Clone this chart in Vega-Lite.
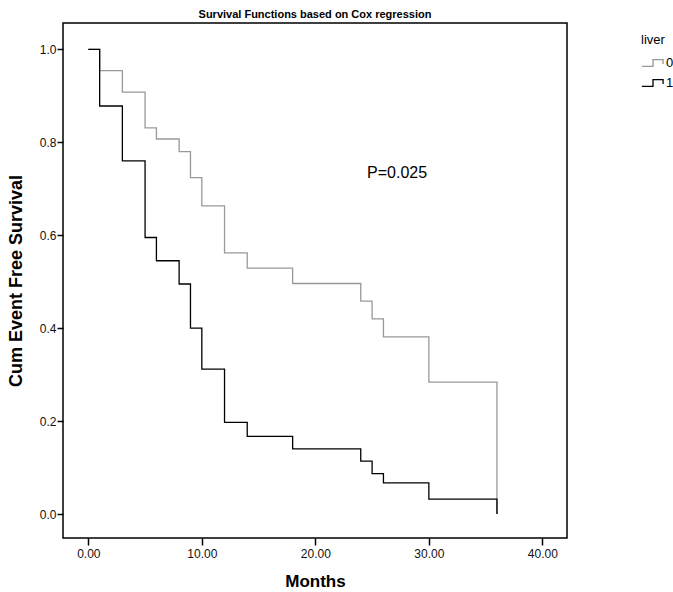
{
  "$schema": "https://vega.github.io/schema/vega-lite/v6.json",
  "autosize": "none",
  "width": 504,
  "height": 515,
  "padding": {"left": 63, "top": 23, "right": 106, "bottom": 54},
  "background": "white",
  "title": {
    "text": "Survival Functions based on Cox regression",
    "font": "Liberation Sans",
    "fontSize": 11,
    "fontWeight": "bold",
    "color": "#000000",
    "anchor": "middle",
    "offset": 3
  },
  "config": {
    "view": {"stroke": "#000000", "strokeWidth": 1.5},
    "axis": {
      "grid": false,
      "domain": false,
      "labelFont": "Liberation Sans",
      "labelFontSize": 12,
      "labelColor": "#111111",
      "tickColor": "#000000",
      "tickWidth": 1.5,
      "tickSize": 7,
      "titleFont": "Liberation Sans",
      "titleFontWeight": "bold",
      "titleColor": "#000000"
    }
  },
  "datasets": {
    "surv": [
      {"time": 0, "surv": 1.0, "liver": "0"},
      {"time": 1, "surv": 0.954, "liver": "0"},
      {"time": 3, "surv": 0.908, "liver": "0"},
      {"time": 5, "surv": 0.831, "liver": "0"},
      {"time": 6, "surv": 0.807, "liver": "0"},
      {"time": 8, "surv": 0.780, "liver": "0"},
      {"time": 9, "surv": 0.724, "liver": "0"},
      {"time": 10, "surv": 0.663, "liver": "0"},
      {"time": 12, "surv": 0.562, "liver": "0"},
      {"time": 14, "surv": 0.529, "liver": "0"},
      {"time": 18, "surv": 0.496, "liver": "0"},
      {"time": 24, "surv": 0.458, "liver": "0"},
      {"time": 25, "surv": 0.420, "liver": "0"},
      {"time": 26, "surv": 0.381, "liver": "0"},
      {"time": 30, "surv": 0.284, "liver": "0"},
      {"time": 36, "surv": 0.0, "liver": "0"},
      {"time": 0, "surv": 1.0, "liver": "1"},
      {"time": 1, "surv": 0.878, "liver": "1"},
      {"time": 3, "surv": 0.760, "liver": "1"},
      {"time": 5, "surv": 0.595, "liver": "1"},
      {"time": 6, "surv": 0.545, "liver": "1"},
      {"time": 8, "surv": 0.495, "liver": "1"},
      {"time": 9, "surv": 0.400, "liver": "1"},
      {"time": 10, "surv": 0.312, "liver": "1"},
      {"time": 12, "surv": 0.197, "liver": "1"},
      {"time": 14, "surv": 0.167, "liver": "1"},
      {"time": 18, "surv": 0.140, "liver": "1"},
      {"time": 24, "surv": 0.114, "liver": "1"},
      {"time": 25, "surv": 0.087, "liver": "1"},
      {"time": 26, "surv": 0.067, "liver": "1"},
      {"time": 30, "surv": 0.032, "liver": "1"},
      {"time": 36, "surv": 0.0, "liver": "1"}
    ],
    "note": [{"time": 27.2, "surv": 0.734, "label": "P=0.025"}]
  },
  "layer": [
    {
      "data": {"name": "surv"},
      "mark": {"type": "line", "interpolate": "step-after", "strokeWidth": 1.3, "clip": true},
      "encoding": {
        "x": {
          "field": "time",
          "type": "quantitative",
          "scale": {"domain": [-2.23, 42.17], "nice": false, "zero": false},
          "axis": {
            "values": [0, 10, 20, 30, 40],
            "format": ".2f",
            "title": "Months",
            "titleFontSize": 17,
            "titlePadding": 14,
            "labelPadding": 3
          }
        },
        "y": {
          "field": "surv",
          "type": "quantitative",
          "scale": {"domain": [-0.0516, 1.0566], "nice": false, "zero": false},
          "axis": {
            "values": [0, 0.2, 0.4, 0.6, 0.8, 1.0],
            "format": ".1f",
            "title": "Cum Event Free Survival",
            "titleFontSize": 18,
            "titlePadding": 14,
            "tickSize": 6,
            "labelPadding": 1
          }
        },
        "color": {
          "field": "liver",
          "type": "nominal",
          "scale": {"domain": ["0", "1"], "range": ["#999999", "#000000"]},
          "legend": {
            "title": "liver",
            "orient": "none",
            "legendX": 578,
            "legendY": 11,
            "titleFont": "Liberation Sans",
            "titleFontSize": 13,
            "titleFontWeight": "normal",
            "titleColor": "#000000",
            "titlePadding": 4,
            "labelFont": "Liberation Sans",
            "labelFontSize": 13,
            "labelColor": "#000000",
            "labelOffset": 1,
            "symbolType": "M-1,0.3H0V-0.3H0.9V0.1",
            "symbolSize": 500,
            "symbolStrokeWidth": 1.3,
            "symbolFillColor": "transparent",
            "rowPadding": 1
          }
        },
        "order": {"field": "time", "type": "quantitative"}
      }
    },
    {
      "data": {"name": "note"},
      "mark": {"type": "text", "font": "Liberation Sans", "fontSize": 16, "color": "#000000", "align": "center", "baseline": "middle"},
      "encoding": {
        "x": {"field": "time", "type": "quantitative"},
        "y": {"field": "surv", "type": "quantitative"},
        "text": {"field": "label"}
      }
    }
  ]
}
